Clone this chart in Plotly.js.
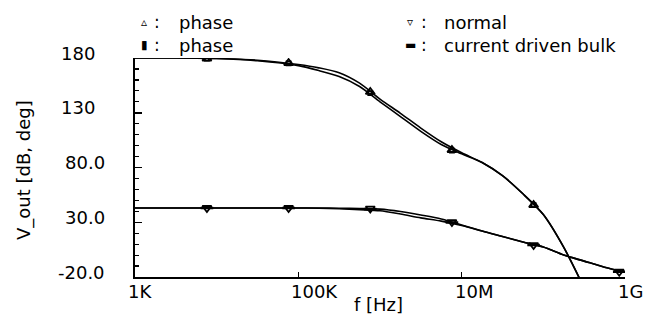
<!DOCTYPE html>
<html>
<head>
<meta charset="utf-8">
<script src="https://cdn.plot.ly/plotly-3.0.1.min.js"></script>
<style>html,body{margin:0;padding:0;background:#fff;}#chart{width:651px;height:322px;}</style>
</head>
<body>
<div id="chart"></div>
<script>
// ---- data ----
const freq = [1e3, 3.16e3, 1e4, 3.16e4, 1e5, 1.78e5, 3.16e5, 5.62e5, 1e6, 1.78e6, 3.16e6, 5.62e6, 1e7, 1.78e7, 3.16e7, 5.62e7, 1e8, 1.78e8, 3.16e8, 5.62e8, 1e9];
const phaseNormal  = [180, 180, 179.5, 178, 174, 171, 166.5, 157, 142.5, 129.5, 116, 103.5, 93.5, 84.5, 72.5, 56, 37, 7, -30, null, null];
const phaseBulk    = [180, 180, 179.5, 177.5, 173, 168.5, 163, 154, 140, 126.5, 113, 101, 92.5, 84.5, 72.5, 56, 37, 7, -30, null, null];
const gainNormal   = [43, 43, 43, 43, 43, 43, 42.8, 42.5, 42, 39.8, 36.6, 33, 27.5, 22, 17, 12, 7.4, 0, -5.5, -11, -15.5];
const gainBulk     = [43, 43, 43, 43, 43, 42.8, 42.3, 41.5, 40.5, 37.5, 34, 31, 27, 22, 17, 12, 7.4, 0, -5.5, -11, -15.5];

const markFreqPhase = [7.6e3, 7.6e4, 7.6e5, 7.6e6, 7.6e7];
const markPhaseNormal = [179.5, 175.4, 149, 96, 45.7];
const markPhaseBulk   = [179.5, 175, 148, 95.5, 45.7];
const markFreqGain = [7.6e3, 7.6e4, 7.6e5, 7.6e6, 7.6e7, 8.5e8];
const markGainNormal = [43, 43, 42.5, 30.2, 9.2, -15.2];
const markGainBulk   = [43, 43, 42, 29.8, 9.2, -15.2];

const xTickVals = [1e3, 1e5, 1e7, 1e9];
const xTickLabels = ['1K', '100K', '10M', '1G'];
const yTickVals = [-20, 30, 80, 130, 180];
const yTickLabels = ['-20.0', '30.0', '80.0', '130', '180'];

const legendRows = [
  {sym: '\u25B5', label: 'phase', col: 0, row: 0},
  {sym: '\u25AE', label: 'phase', col: 0, row: 1},
  {sym: '\u25BF', label: 'normal', col: 1, row: 0},
  {sym: '\u25AC', label: 'current driven bulk', col: 1, row: 1}
];

// ---- layout geometry ----
const L = 135, R = 625, T = 58, B = 277;
const ax = px => (px - L) / (R - L);
const ay = py => (B - py) / (B - T);
const FONT = 'DejaVu Sans';
const black = '#000';

const lineStyle = {color: black, width: 1.6, shape: 'spline', smoothing: 0.8};
const traces = [
  {x: freq, y: phaseNormal, mode: 'lines', line: lineStyle, hoverinfo: 'skip'},
  {x: freq, y: phaseBulk, mode: 'lines', line: lineStyle, hoverinfo: 'skip'},
  {x: freq, y: gainNormal, mode: 'lines', line: lineStyle, hoverinfo: 'skip'},
  {x: freq, y: gainBulk, mode: 'lines', line: lineStyle, hoverinfo: 'skip'},
  {x: markFreqPhase, y: markPhaseNormal, mode: 'markers', marker: {symbol: 'triangle-up-open', size: 8, color: black, line: {width: 1.8, color: black}}},
  {x: markFreqPhase, y: markPhaseBulk, mode: 'markers', marker: {symbol: 'square-open', size: 4, color: black, line: {width: 1.8, color: black}}},
  {x: markFreqGain, y: markGainNormal, mode: 'markers', marker: {symbol: 'triangle-down-open', size: 8, color: black, line: {width: 1.8, color: black}}},
  {x: markFreqGain, y: markGainBulk, mode: 'markers', marker: {symbol: 'line-ew-open', size: 9, color: black, line: {width: 2.5, color: black}}}
];

const annotations = [];
// y tick labels
yTickVals.forEach((v, i) => {
  const lab = yTickLabels[i];
  annotations.push({xref: 'paper', yref: 'y', x: ax(lab.indexOf('.') >= 0 ? 107 : 97), y: v, yshift: 5,
    xanchor: 'right', yanchor: 'middle', showarrow: false, text: lab, font: {family: FONT, size: 18, color: black}});
});
// x tick labels
xTickVals.forEach((v, i) => {
  annotations.push({xref: 'x', yref: 'paper', x: Math.log10(v), y: 0, yshift: -14, xshift: -9,
    xanchor: 'left', yanchor: 'middle', showarrow: false, text: xTickLabels[i], font: {family: FONT, size: 18, color: black}});
});
// axis titles
annotations.push({xref: 'paper', yref: 'paper', x: ax(24), y: ay(170), textangle: -90, xanchor: 'center', yanchor: 'middle',
  showarrow: false, text: 'V_out [dB, deg]', font: {family: FONT, size: 18, color: black}});
annotations.push({xref: 'paper', yref: 'paper', x: ax(378), y: ay(304), xanchor: 'center', yanchor: 'middle',
  showarrow: false, text: 'f [Hz]', font: {family: FONT, size: 18, color: black}});
// legend text
const colSym = [144, 410], colColon = [157, 424], colText = [177, 442], rowY = [22, 45];
legendRows.forEach(r => {
  annotations.push({xref: 'paper', yref: 'paper', x: ax(colSym[r.col]), y: ay(rowY[r.row]), xanchor: 'center', yanchor: 'middle',
    showarrow: false, text: r.sym, font: {family: FONT, size: 12, color: black}});
  annotations.push({xref: 'paper', yref: 'paper', x: ax(colColon[r.col]), y: ay(rowY[r.row]), xanchor: 'center', yanchor: 'middle',
    showarrow: false, text: ':', font: {family: FONT, size: 17, color: black}});
  annotations.push({xref: 'paper', yref: 'paper', x: ax(colText[r.col]), y: ay(rowY[r.row]), xanchor: 'left', yanchor: 'middle',
    showarrow: false, text: r.label, font: {family: FONT, size: 18, color: black}});
});

const layout = {
  width: 651, height: 322,
  margin: {l: L, r: 651 - R, t: T, b: 322 - B, pad: 0},
  paper_bgcolor: '#fff', plot_bgcolor: '#fff',
  showlegend: false,
  xaxis: {type: 'log', range: [3, 9], showgrid: false, zeroline: false, showline: true, linecolor: black, linewidth: 2,
    tickmode: 'array', tickvals: xTickVals, ticks: 'inside', ticklen: 5, tickwidth: 1.5, tickcolor: black, showticklabels: false},
  yaxis: {range: [-20, 180], showgrid: false, zeroline: false, showline: true, linecolor: black, linewidth: 2,
    tickmode: 'array', tickvals: yTickVals, ticks: 'inside', ticklen: 7, tickwidth: 1.5, tickcolor: black, showticklabels: false,
    minor: {tickmode: 'linear', tick0: -20, dtick: 10, ticks: 'inside', ticklen: 4, tickwidth: 1.2, tickcolor: black}},
  annotations: annotations
};

Plotly.newPlot('chart', traces, layout, {staticPlot: true, displayModeBar: false});
</script>
</body>
</html>
